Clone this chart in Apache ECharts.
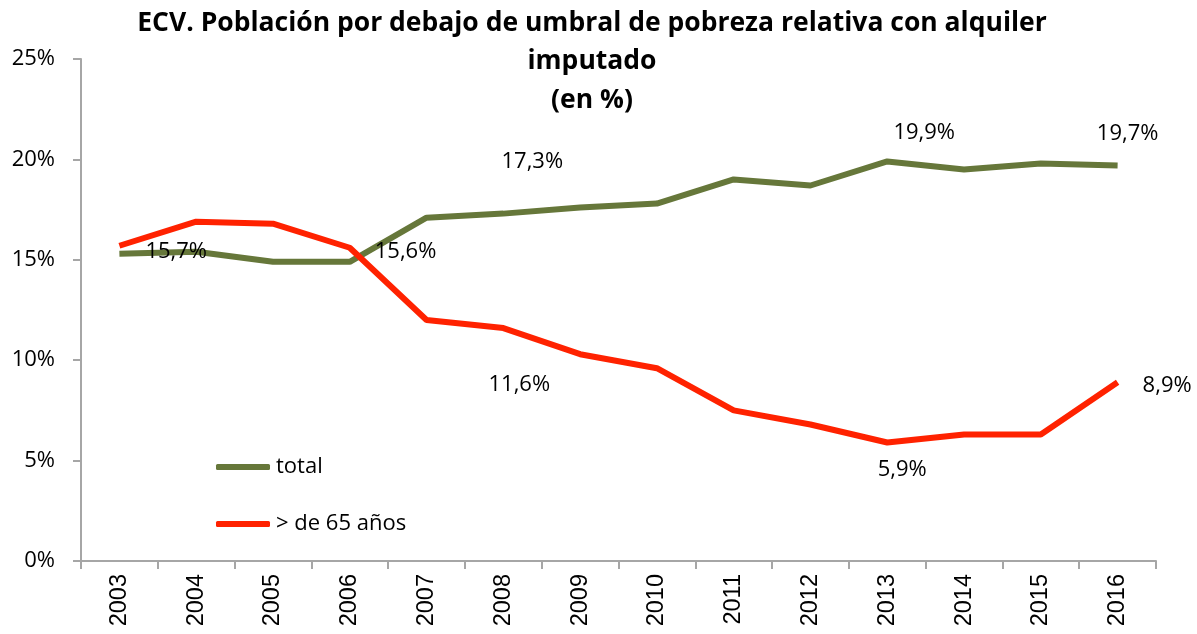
<!DOCTYPE html>
<html>
<head>
<meta charset="utf-8">
<script src="https://cdn.jsdelivr.net/npm/echarts@6/dist/echarts.min.js"></script>
<style>
  html, body { margin: 0; padding: 0; background: #fff; }
  #chart { width: 1197px; height: 634px; }
</style>
</head>
<body>
<div id="chart"></div>
<script>
// datos (en %)
const years = ['2003', '2004', '2005', '2006', '2007', '2008', '2009', '2010', '2011', '2012', '2013', '2014', '2015', '2016']
const total = [15.3, 15.4, 14.9, 14.9, 17.1, 17.3, 17.6, 17.8, 19.0, 18.7, 19.9, 19.5, 19.8, 19.7]
const mayores65 = [15.7, 16.9, 16.8, 15.6, 12.0, 11.6, 10.3, 9.6, 7.5, 6.8, 5.9, 6.3, 6.3, 8.9]
const yTicks = [0, 5, 10, 15, 20, 25]

// etiquetas visibles: indice del año -> colocacion
const labelsTotal = {
  5: { position: 'top', offset: [29, -36] },
  10: { position: 'top', offset: [37, -13] },
  13: { position: 'top', offset: [10, -16] }
}
const labelsMayores = {
  0: { position: 'right', distance: 26, offset: [0, 6] },
  3: { position: 'right', distance: 25, offset: [0, 4] },
  5: { position: 'bottom', offset: [16, 41] },
  10: { position: 'bottom', offset: [15, 11] },
  13: { position: 'right', distance: 25, offset: [0, 3] }
}

const labelFont = { fontFamily: 'Open Sans', fontSize: 22, color: '#000' }

function buildData (values, labels) {
  return values.map((v, i) => {
    const l = labels[i]
    if (!l) return v
    return {
      value: v,
      label: Object.assign({ show: true, formatter: p => p.value.toFixed(1).replace('.', ',') + '%' }, labelFont, l)
    }
  })
}

const chart = echarts.init(document.getElementById('chart'))
chart.setOption({
  animation: false,
  title: {
    text: 'ECV. Población por debajo de umbral de pobreza relativa con alquiler\nimputado\n(en %)',
    left: 587,
    top: -1,
    textAlign: 'center',
    textStyle: {
      fontFamily: 'Open Sans',
      fontWeight: 'bold',
      fontSize: 26.5,
      lineHeight: 38.5,
      color: '#000'
    }
  },
  legend: {
    orient: 'vertical',
    left: 211,
    top: 451,
    icon: 'roundRect',
    itemWidth: 54,
    itemHeight: 6,
    itemGap: 35,
    textStyle: Object.assign({ padding: [0, 0, 0, 1] }, labelFont),
    data: ['total', '> de 65 años']
  },
  grid: {
    left: 81,
    right: 41,
    top: 59,
    bottom: 73
  },
  xAxis: {
    type: 'category',
    data: years,
    boundaryGap: true,
    axisLine: { lineStyle: { color: '#a6a6a6', width: 2 } },
    axisTick: { show: true, length: 8, inside: false, alignWithLabel: false, lineStyle: { color: '#a6a6a6', width: 2 } },
    axisLabel: {
      rotate: 90,
      margin: 13,
      fontFamily: 'Liberation Sans',
      fontSize: 23.5,
      color: '#000'
    }
  },
  yAxis: {
    type: 'value',
    min: yTicks[0],
    max: yTicks[yTicks.length - 1],
    interval: yTicks[1] - yTicks[0],
    splitLine: { show: false },
    axisLine: { show: true, lineStyle: { color: '#a6a6a6', width: 2 } },
    axisTick: { show: true, length: 8, lineStyle: { color: '#a6a6a6', width: 2 } },
    axisLabel: {
      formatter: '{value}%',
      margin: 26,
      fontFamily: 'Open Sans',
      fontSize: 22,
      color: '#000'
    }
  },
  series: [
    {
      name: 'total',
      type: 'line',
      data: buildData(total, labelsTotal),
      symbol: 'circle',
      symbolSize: 0,
      color: '#66773a',
      lineStyle: { width: 6, color: '#66773a' },
      z: 2
    },
    {
      name: '> de 65 años',
      type: 'line',
      data: buildData(mayores65, labelsMayores),
      symbol: 'circle',
      symbolSize: 0,
      color: '#ff2200',
      lineStyle: { width: 6, color: '#ff2200' },
      z: 3
    }
  ]
})
</script>
</body>
</html>
